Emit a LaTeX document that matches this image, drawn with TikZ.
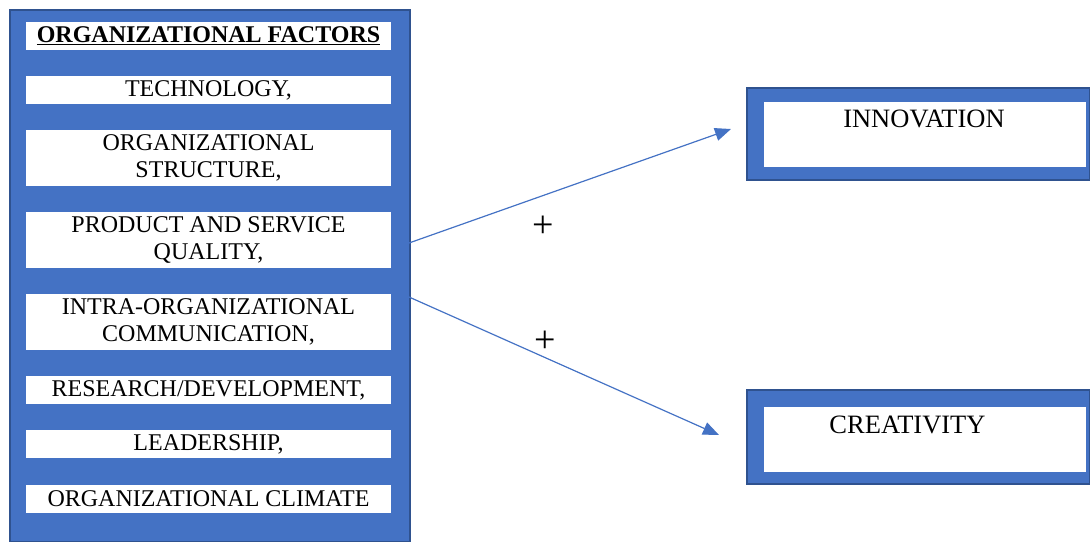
\documentclass[tikz,border=0pt]{standalone}
\usepackage{fontspec}
\setmainfont{Liberation Serif}
\usetikzlibrary{arrows.meta}
\definecolor{obl}{HTML}{4472C4}
\definecolor{odk}{HTML}{2F528F}
\begin{document}
\begin{tikzpicture}[x=1pt,y=-1pt,
  bigbox/.style={draw=odk, line width=2pt, fill=obl, inner sep=0pt, anchor=north west},
  wbar/.style={fill=white, draw=none, minimum width=365pt, inner sep=0pt, align=center,
    font=\fontsize{24}{27.5}\selectfont},
  frame/.style={draw=odk, line width=2pt, fill=obl, inner sep=0pt, anchor=north west},
  rtext/.style={anchor=base, inner sep=0pt, font=\fontsize{26.5}{30}\selectfont},
  plus/.style={inner sep=0pt, font=\fontsize{38}{40}\selectfont},
  arr/.style={draw=obl, line width=1.2pt, -{Triangle[length=16pt,width=13pt]}}]
\useasboundingbox (0,0) rectangle (1090,541);
% left panel
\node[bigbox, minimum width=400pt, minimum height=532pt] (lf) at (9,9) {};
\node[wbar, minimum height=28pt] (title) at (208.5,36) {\textbf{\underline{ORGANIZATIONAL FACTORS}}};
\node[wbar, minimum height=28pt] (tech) at (208.5,90) {TECHNOLOGY,};
\node[wbar, minimum height=56pt] (struct) at (208.5,158) {ORGANIZATIONAL\\STRUCTURE,};
\node[wbar, minimum height=56pt] (prod) at (208.5,240) {PRODUCT AND SERVICE\\QUALITY,};
\node[wbar, minimum height=56pt] (intra) at (208.5,322) {INTRA-ORGANIZATIONAL\\COMMUNICATION,};
\node[wbar, minimum height=28pt] (rd) at (208.5,390) {RESEARCH/DEVELOPMENT,};
\node[wbar, minimum height=28pt] (lead) at (208.5,444) {LEADERSHIP,};
\node[wbar, minimum height=28pt] (clim) at (208.5,499) {ORGANIZATIONAL CLIMATE};
% right boxes
\node[frame, minimum width=343pt, minimum height=92pt] (inno) at (746,87) {};
\fill[white] (764,102) rectangle (1086,167);
\node[rtext] (innot) at (924,127) {INNOVATION};
\node[frame, minimum width=343pt, minimum height=94pt] (crea) at (746,389) {};
\fill[white] (764,407) rectangle (1086,472);
\node[rtext] (creat) at (907.5,433) {CREATIVITY};
% connectors
\coordinate (s1) at (409,243);
\coordinate (t1) at (731,129);
\coordinate (s2) at (409,297);
\coordinate (t2) at (719,435);
\draw[arr] (s1) -- (t1);
\draw[arr] (s2) -- (t2);
\node[plus] (p1) at (543,227) {+};
\node[plus] (p2) at (545,342) {+};
\end{tikzpicture}
\end{document}
